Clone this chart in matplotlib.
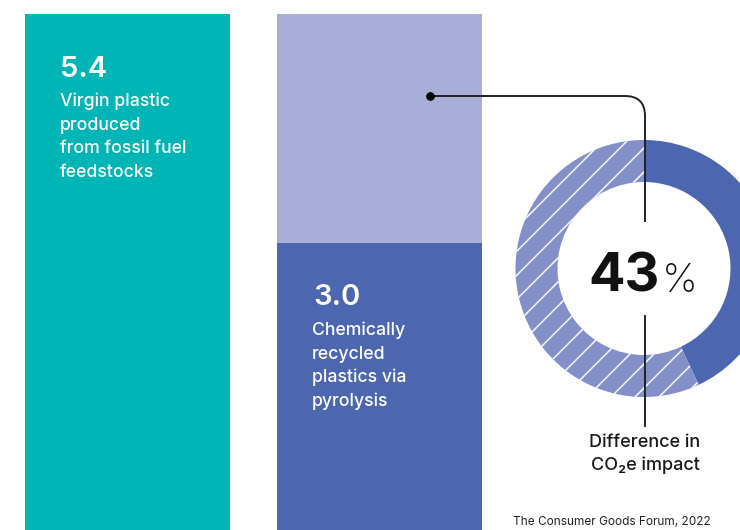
import numpy as np
import matplotlib.pyplot as plt
from matplotlib.path import Path
from matplotlib.patches import PathPatch

# figure drawn at 72 dpi so the hatch spacing matches; S converts sizes
DPI = 72
S = 100 / DPI

plt.rcParams['font.family'] = ['Inter', 'DejaVu Sans']
plt.rcParams['hatch.color'] = 'white'
plt.rcParams['hatch.linewidth'] = 1.5

# emissions per tonne
labels = ['Virgin plastic\nproduced\nfrom fossil fuel\nfeedstocks',
          'Chemically\nrecycled\nplastics via\npyrolysis']
values = [5.4, 3.0]
diff_pct = 43
source = 'The Consumer Goods Forum, 2022'

teal = '#00B5B5'
lavender = '#A8AED8'
blue = '#4C66B0'
hatched = '#8390C8'

W, H = 740, 530
fig = plt.figure(figsize=(W / DPI, H / DPI), dpi=DPI)

# bars
ax = fig.add_axes([0, 0, 1, 1])
x = np.arange(len(values))
ax.bar(x[0], values[0], width=0.812, color=teal)
ax.bar(x[1], values[1], width=0.812, color=blue)
ax.bar(x[1], values[0] - values[1], bottom=values[1], width=0.812, color=lavender)
ax.set_xlim(-0.505, 2.426)
ax.set_ylim(0, values[0] * H / 516)
ax.axis('off')

# donut
r = 128.5
cx, cy = 644, 268.5
pax = fig.add_axes([(cx - r) / W, (H - cy - r) / H, 2 * r / W, 2 * r / H])
wedges, _ = pax.pie([diff_pct, 100 - diff_pct], colors=[blue, hatched],
                    startangle=90, counterclock=False, radius=1,
                    wedgeprops=dict(width=1 - 86.5 / r, linewidth=0))
wedges[1].set_hatch('/')
wedges[1].set_edgecolor('white')
wedges[1].set_linewidth(0)
pax.set_xlim(-1, 1)
pax.set_ylim(-1, 1)
pax.axis('off')

# overlay in pixel coordinates for text and connector
ov = fig.add_axes([0, 0, 1, 1])
ov.set_xlim(0, W)
ov.set_ylim(H, 0)
ov.axis('off')
ov.patch.set_alpha(0)

verts = [(430, 96), (625, 96), (645, 96), (645, 116), (645, 222)]
codes = [Path.MOVETO, Path.LINETO, Path.CURVE3, Path.CURVE3, Path.LINETO]
ov.add_patch(PathPatch(Path(verts, codes), fill=False, lw=1.4 * S, color='#222222'))
ov.plot([430], [96], 'o', color='black', markersize=5.5 * S)
ov.plot([645, 645], [316, 426], color='#222222', lw=1.4 * S)

ov.text(60, 77, f'{values[0]:.1f}', color='white', fontsize=21 * S, fontweight='semibold')
for i, line in enumerate(labels[0].split('\n')):
    ov.text(60, 106 + i * 23.7, line, color='white', fontsize=12.7 * S, fontweight='medium')
ov.text(313, 305, f'{values[1]:.1f}', color='white', fontsize=21 * S, fontweight='semibold')
for i, line in enumerate(labels[1].split('\n')):
    ov.text(312, 335 + i * 23.7, line, color='white', fontsize=12.7 * S, fontweight='medium')

ov.text(660, 292, str(diff_pct), ha='right', fontsize=39 * S, fontweight='bold', color='#111111')
ov.text(662, 292, '%', ha='left', fontsize=29 * S, fontweight='light', color='#111111')

ov.text(645, 447, 'Difference in', ha='center', fontsize=13 * S, fontweight='medium', color='#1a1a1a')
ov.text(645, 470, 'CO₂e impact', ha='center', fontsize=13 * S, fontweight='medium', color='#1a1a1a')
ov.text(513, 525, source, fontsize=8.5 * S, color='#222222')

fig.savefig('out.png', dpi=DPI)
